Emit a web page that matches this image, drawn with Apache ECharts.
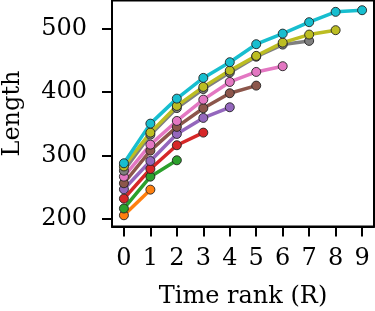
<!DOCTYPE html>
<html>
<head>
<meta charset="utf-8">
<script src="https://cdn.jsdelivr.net/npm/echarts@6/dist/echarts.min.js"></script>
<style>
html,body{margin:0;padding:0;background:#fff;}
#chart{width:375px;height:311px;}
</style>
</head>
<body>
<div id="chart"></div>
<script>
const xTicks = [0,1,2,3,4,5,6,7,8,9];
const yTicks = [200,300,400,500];
const orangeVals = [206, 246.4];
const greenVals = [216.7, 266.9, 292.7];
const redVals = [232.2, 279, 316.4, 336.3];
const purpleVals = [247, 291.6, 334.2, 359.5, 376.3];
const brownVals = [256.5, 307.9, 345.3, 374.8, 398.4, 410.4];
const pinkVals = [266.9, 317.4, 354.7, 388.3, 416.2, 432, 441];
const grayVals = [276.3, 333, 375, 405, 431, 456, 475.1, 480.9];
const oliveVals = [283, 336.3, 378.4, 408.4, 434.1, 457.3, 478.2, 490.9, 497.8];
const cyanVals = [288, 350.5, 389.9, 422.6, 447.3, 475.7, 492.4, 510.4, 526.7, 529.3];

const seriesDefs = [
  {vals: orangeVals, color: '#ff7f0e'},
  {vals: greenVals, color: '#2ca02c'},
  {vals: redVals, color: '#d62728'},
  {vals: purpleVals, color: '#9467bd'},
  {vals: brownVals, color: '#8c564b'},
  {vals: pinkVals, color: '#e377c2'},
  {vals: grayVals, color: '#7f7f7f'},
  {vals: oliveVals, color: '#bcbd22'},
  {vals: cyanVals, color: '#17becf'}
];

const font = 'DejaVu Serif';
const chart = echarts.init(document.getElementById('chart'), null, {renderer: 'canvas'});
chart.setOption({
  animation: false,
  grid: {left: 112, right: 1, top: 0.5, bottom: 84.5, show: true, borderColor: '#000', borderWidth: 2, backgroundColor: 'transparent', containLabel: false, outerBoundsMode: 'none'},
  xAxis: {
    type: 'value', min: -0.45, max: 9.45,
    name: 'Time rank (R)', nameLocation: 'middle', nameGap: 58,
    nameTextStyle: {fontFamily: font, fontSize: 24, color: '#000'},
    axisLine: {show: true, onZero: false, lineStyle: {color: '#000', width: 2}},
    axisTick: {show: true, length: 10, lineStyle: {color: '#000', width: 2}, customValues: xTicks},
    axisLabel: {fontFamily: font, fontSize: 24, color: '#000', margin: 20, customValues: xTicks, formatter: v => String(v)},
    splitLine: {show: false}
  },
  yAxis: {
    type: 'value', min: 188.3, max: 544.6,
    name: 'Length', nameLocation: 'middle', nameGap: 87,
    nameTextStyle: {fontFamily: font, fontSize: 24, color: '#000'},
    axisLine: {show: true, onZero: false, lineStyle: {color: '#000', width: 2}},
    axisTick: {show: true, length: 10, lineStyle: {color: '#000', width: 2}, customValues: yTicks},
    axisLabel: {fontFamily: font, fontSize: 24, color: '#000', margin: 25, customValues: yTicks, formatter: v => String(v)},
    splitLine: {show: false}
  },
  series: seriesDefs.map(s => ({
    type: 'line',
    data: s.vals.map((v, i) => [xTicks[i], v]),
    symbol: 'circle', symbolSize: 9,
    lineStyle: {color: s.color, width: 3.5},
    itemStyle: {color: s.color, borderColor: '#222', borderWidth: 0.9},
    emphasis: {disabled: true}
  }))
});
</script>
</body>
</html>
